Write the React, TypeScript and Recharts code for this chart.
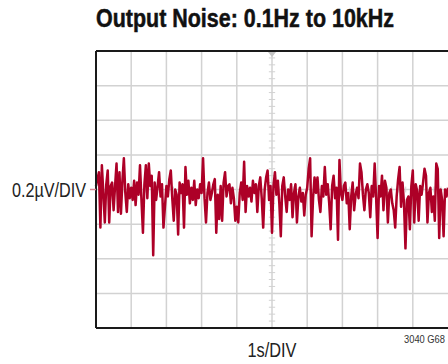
import React from 'react'
import { CartesianGrid, Line, LineChart, ReferenceDot, ReferenceLine, XAxis, YAxis } from 'recharts'

// scope trace, µV, sampled evenly across the 10s sweep
const noiseUv = [
  // 0–1 s
  0.02, 0.06, 0.1, -0.22, 0.14, -0.02, -0.19, 0.03, 0.11, -0.19, 0.02, 0.04, -0.12, 0.02, 0.15, -0.13, 0.1, -0.14, 0.05, 0.18, -0.02, -0.13, 0.03, -0.05,
  // 1–2 s
  0.01, -0.06, 0.05, -0.09, 0.04, -0.03, 0.14, -0.06, -0.25, 0.03, 0.14, -0.05, 0.15, 0.02, 0.08, -0.38, 0.04, -0.06, 0.02, 0.1, -0.04, 0.03, -0.22, -0.1,
  // 2–3 s
  0.02, -0.04, 0.06, 0.11, -0.05, -0.18, 0.0, -0.03, -0.26, 0.04, -0.02, 0.03, -0.22, 0.13, -0.03, 0.05, -0.08, 0.01, -0.06, 0.05, -0.09, 0.0, -0.05, 0.03,
  // 3–4 s
  -0.02, 0.18, -0.05, -0.19, -0.02, 0.04, -0.06, -0.02, 0.03, 0.06, -0.25, -0.03, -0.17, 0.02, -0.18, 0.04, 0.1, -0.04, 0.02, 0.03, -0.08, 0.01, -0.05, -0.18,
  // 4–5 s
  -0.1, -0.19, -0.02, 0.04, -0.06, 0.16, -0.13, 0.02, -0.04, 0.01, -0.07, 0.05, -0.02, 0.03, -0.13, 0.02, 0.07, -0.05, -0.22, 0.0, 0.07, 0.11, -0.06, 0.02,
  // 5–6 s
  -0.25, 0.02, 0.1, -0.03, 0.05, -0.08, -0.27, 0.02, 0.07, -0.04, -0.13, 0.0, -0.06, 0.03, -0.16, -0.02, 0.03, -0.19, -0.04, 0.01, -0.07, -0.02, -0.15, -0.03,
  // 6–7 s
  0.01, 0.12, 0.18, -0.27, -0.05, 0.07, -0.02, 0.07, -0.06, -0.13, 0.02, -0.04, 0.13, -0.03, 0.03, -0.08, -0.23, 0.02, 0.08, -0.05, 0.01, -0.29, 0.17, -0.02,
  // 7–8 s
  -0.06, 0.02, 0.04, -0.08, -0.02, -0.23, -0.04, 0.04, -0.12, -0.03, 0.01, -0.05, 0.15, 0.1, -0.03, -0.12, 0.0, 0.03, -0.02, -0.16, 0.02, -0.04, 0.15, -0.05,
  // 8–9 s
  -0.28, 0.02, -0.04, 0.08, -0.12, 0.05, 0.01, -0.19, -0.02, 0.0, -0.08, -0.12, -0.22, -0.04, 0.06, 0.13, -0.1, 0.04, -0.08, -0.34, -0.06, -0.04, -0.23, 0.02,
  // 9–10 s
  0.11, -0.19, 0.03, -0.01, -0.18, 0.02, -0.03, 0.04, 0.12, 0.08, -0.19, -0.02, 0.01, -0.13, -0.04, -0.18, 0.15, 0.12, -0.28, 0.0, -0.06, -0.27, 0.0, -0.04, 0.01
]

const sweepSeconds = 10
const timeGrid = [1, 2, 3, 4, 5, 6, 7, 8, 9]
const voltGrid = [-0.6, -0.4, -0.2, 0, 0.2, 0.4, 0.6]
const fullScaleUv = 0.8

const noiseData = noiseUv.map((v, i) => ({ t: (i * sweepSeconds) / (noiseUv.length - 1), v }))

// graticule minor marks on the centre cross: 5 per division
const minorT = Array.from({ length: 49 }, (_, i) => (i + 1) * 0.2).filter((t) => Math.abs(t - 5) > 0.01)
const minorV = Array.from({ length: 39 }, (_, i) => -0.76 + i * 0.04).filter((v) => Math.abs(v) > 0.001)

// no narrow face installed, so squeeze a regular one with textLength
const FONT = '"Liberation Sans", Arial, sans-serif'
const GRID = '#d2d2d2'
const TRACE = '#ad0027'

function TriggerMark(props: { cx?: number; cy?: number }) {
  const { cx = 0, cy = 0 } = props
  return <path d={`M${cx - 4},${cy + 1} L${cx + 4},${cy + 1} L${cx},${cy + 6} Z`} fill="#c4c4c4" />
}

function ScaleTickY(props: { x?: number; y?: number }) {
  const { x = 0, y = 0 } = props
  return (
    <text x={x} y={y + 7} textAnchor="end" fontFamily={FONT} fontSize={20} fill="#222" textLength={74} lengthAdjust="spacingAndGlyphs">
      0.2µV/DIV
    </text>
  )
}

function ScaleTickX(props: { x?: number; y?: number }) {
  const { x = 0, y = 0 } = props
  return (
    <text x={x} y={y + 29} textAnchor="middle" fontFamily={FONT} fontSize={20} fill="#222" textLength={49} lengthAdjust="spacingAndGlyphs">
      1s/DIV
    </text>
  )
}

export default function App() {
  return (
    <div style={{ position: 'absolute', left: 0, top: 0, width: 448, height: 364, background: '#fff' }}>
      <svg width={448} height={364} style={{ position: 'absolute', left: 0, top: 0 }}>
        <text
          x={96}
          y={27}
          fontFamily={FONT}
          fontWeight="bold"
          fontSize={25}
          fill="#111"
          stroke="#111"
          strokeWidth={0.5}
          textLength={298}
          lengthAdjust="spacingAndGlyphs"
        >
          Output Noise: 0.1Hz to 10kHz
        </text>
        <text x={404} y={343} fontFamily={FONT} fontSize={10.5} fill="#333" textLength={41} lengthAdjust="spacingAndGlyphs">
          3040 G68
        </text>
      </svg>
      <div style={{ position: 'absolute', left: 0, top: 0 }}>
        <LineChart width={448} height={364} data={noiseData} margin={{ top: 51, right: 0, bottom: 6, left: 0 }}>
          <CartesianGrid stroke={GRID} strokeWidth={1.5} verticalValues={timeGrid} horizontalValues={voltGrid} />
          <XAxis
            type="number"
            dataKey="t"
            domain={[0, sweepSeconds]}
            ticks={[5]}
            axisLine={false}
            tickLine={false}
            tickSize={0}
            tickMargin={0}
            height={30}
            tick={<ScaleTickX />}
          />
          <YAxis
            type="number"
            domain={[-fullScaleUv, fullScaleUv]}
            ticks={[0]}
            axisLine={false}
            tickLine={{ stroke: '#d9808f', strokeWidth: 1.5 }}
            tickSize={6}
            tickMargin={4}
            width={96}
            tick={<ScaleTickY />}
          />
          {minorT.map((t) => (
            <ReferenceLine key={`mt${t}`} segment={[{ x: t, y: -0.017 }, { x: t, y: 0.017 }]} stroke={GRID} />
          ))}
          {minorV.map((v) => (
            <ReferenceLine key={`mv${v}`} segment={[{ x: 4.91, y: v }, { x: 5.09, y: v }]} stroke={GRID} />
          ))}
          <Line
            type="linear"
            dataKey="v"
            stroke={TRACE}
            strokeWidth={2.5}
            strokeLinejoin="round"
            dot={false}
            isAnimationActive={false}
          />
          <ReferenceDot x={5} y={fullScaleUv} r={0} shape={<TriggerMark />} />
          <ReferenceLine x={0} stroke="#1a1a1a" strokeWidth={2} />
          <ReferenceLine y={fullScaleUv} stroke="#1a1a1a" strokeWidth={2} />
          <ReferenceLine y={-fullScaleUv} stroke="#1a1a1a" strokeWidth={2} />
        </LineChart>
      </div>
    </div>
  )
}
